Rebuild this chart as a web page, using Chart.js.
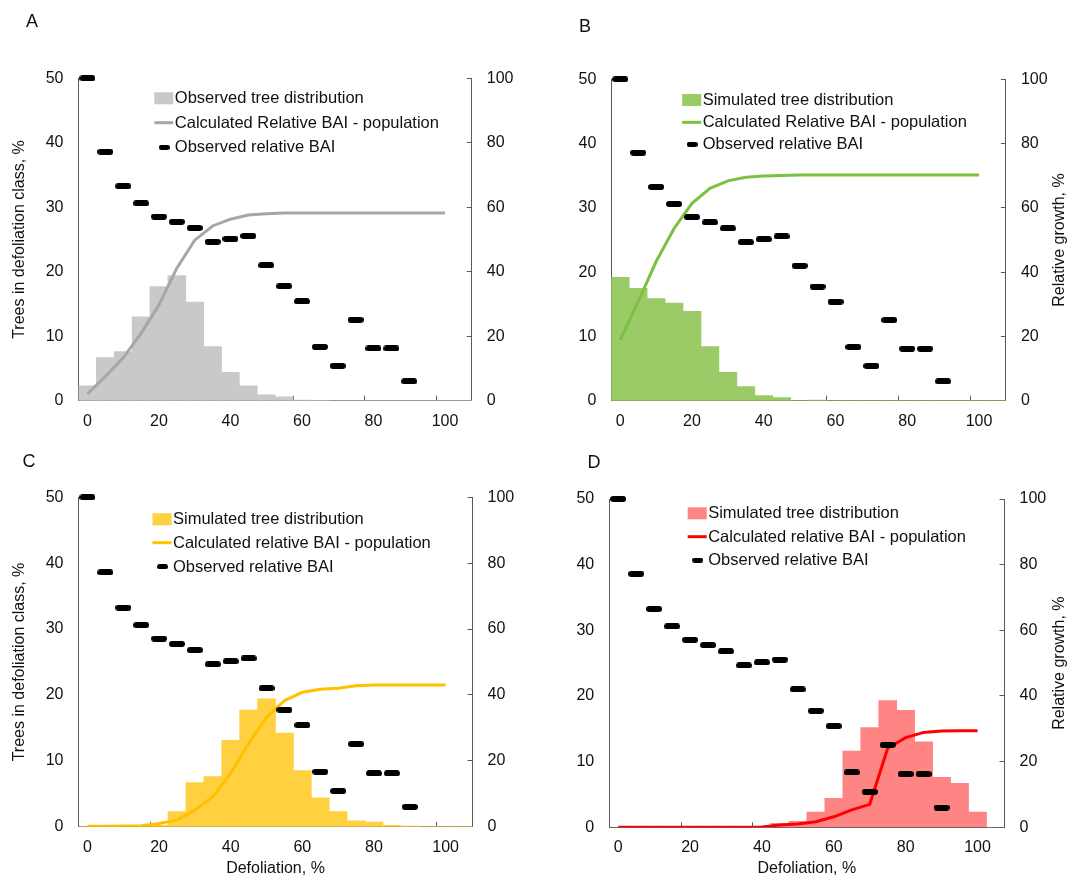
<!DOCTYPE html>
<html>
<head>
<meta charset="utf-8">
<script src="https://cdn.jsdelivr.net/npm/chart.js@4.4.0/dist/chart.umd.min.js"></script>
<style>
  html, body { margin: 0; padding: 0; background: #fff; }
  #wrap { position: relative; width: 1070px; height: 877px; }
  canvas { position: absolute; }
</style>
</head>
<body>
<div id="wrap">
  <canvas id="panelA" width="535" height="440" style="left:0px;top:0px"></canvas>
  <canvas id="panelB" width="535" height="440" style="left:535px;top:0px"></canvas>
  <canvas id="panelC" width="535" height="437" style="left:0px;top:440px"></canvas>
  <canvas id="panelD" width="535" height="437" style="left:535px;top:440px"></canvas>
</div>
<script>
/* Defoliation classes (5 % steps). */
const defoliation = [0, 5, 10, 15, 20, 25, 30, 35, 40, 45, 50, 55, 60, 65, 70, 75, 80, 85, 90, 95, 100, 105]

/* Observed relative BAI, same in every panel (0 - 90 %). */
const observedBAI = [100, 77.2, 66.5, 61.2, 57.1, 55.5, 53.6, 49.3, 50.2, 51.1, 42.0, 35.5, 30.8, 16.7, 10.8, 25.1, 16.2, 16.2, 6.0]

/* Trees in defoliation class, %. */
const treesA = [2.3, 6.7, 7.6, 13.0, 17.7, 19.4, 15.3, 8.4, 4.4, 2.3, 0.9, 0.6, 0.1, 0.05, 0, 0, 0, 0, 0, 0, 0, 0]
const treesB = [19.2, 17.5, 15.9, 15.2, 13.9, 8.4, 4.4, 2.2, 0.8, 0.5, 0, 0.1, 0, 0, 0, 0, 0, 0, 0, 0, 0, 0]
const treesC = [0, 0, 0, 0, 0.25, 2.3, 6.7, 7.6, 13.1, 17.7, 19.4, 14.2, 8.5, 4.4, 2.3, 0.9, 0.7, 0.2, 0.1, 0, 0, 0]
const treesD = [0, 0, 0, 0, 0, 0, 0, 0, 0.1, 0.6, 0.9, 2.3, 4.4, 11.6, 15.2, 19.3, 17.8, 13.0, 7.6, 6.7, 2.3, 0]

/* Calculated relative BAI - population, %. */
const baiA = [2.1, 7.5, 13.3, 20.9, 29.7, 41.1, 49.8, 54.2, 56.3, 57.6, 58.0, 58.2, 58.2, 58.2, 58.2, 58.2, 58.2, 58.2, 58.2, 58.2, 58.2, null]
const baiB = [18.9, 30.8, 43.3, 53.6, 61.4, 66.1, 68.4, 69.5, 69.9, 70.1, 70.2, 70.2, 70.2, 70.2, 70.2, 70.2, 70.2, 70.2, 70.2, 70.2, 70.2, null]
const baiC = [0.1, 0.1, 0.2, 0.3, 1.0, 2.0, 5.1, 9.1, 16.2, 25.3, 33.2, 38.3, 40.8, 41.7, 42.0, 42.8, 43.0, 43.0, 43.0, 43.0, 43.0, null]
const baiD = [0, 0, 0, 0, 0, 0, 0, 0, 0.1, 0.7, 1.0, 1.7, 3.2, 5.3, 7.0, 24.1, 27.3, 28.9, 29.3, 29.4, 29.4, null]

const FONT = '"Liberation Sans", Arial, sans-serif'
const AXIS = '#595959'
const TEXT = '#111'

/* Rounded black dash used as marker for observed BAI. */
const makeDash = (w, h) => {
  const c = document.createElement("canvas")
  c.width = w
  c.height = h
  const g = c.getContext("2d")
  g.strokeStyle = "#000"
  g.lineWidth = h
  g.lineCap = "round"
  g.beginPath()
  g.moveTo(h / 2, h / 2)
  g.lineTo(w - h / 2, h / 2)
  g.stroke()
  return c
}
const dashMarker = makeDash(16, 6)

/* Panel layout: plot area inside each canvas, legend and letter place. */
const panels = [
  { id: "panelA", letter: "A", letterAt: [32, 22], area: { l: 78.5, r: 471.8, t: 78.3, b: 400.7 },
    legendX: 154.3, legendRows: [98.3, 122.7, 147.3], leftTitle: true, rightTitle: false, xTitle: false,
    bars: treesA, line: baiA, barColor: "#c9c9c9", lineColor: "#a6a6a6",
    barLabel: "Observed tree distribution", lineLabel: "Calculated Relative BAI - population" },
  { id: "panelB", letter: "B", letterAt: [50, 27], area: { l: 76.3, r: 470.9, t: 79.3, b: 400.7 },
    legendX: 147.2, legendRows: [100, 122.3, 144.3], leftTitle: false, rightTitle: true, xTitle: false,
    bars: treesB, line: baiB, barColor: "#9bcb67", lineColor: "#7ac142",
    barLabel: "Simulated tree distribution", lineLabel: "Calculated Relative BAI - population" },
  { id: "panelC", letter: "C", letterAt: [29, 22], area: { l: 78.5, r: 472.5, t: 57.3, b: 386.7 },
    legendX: 152.5, legendRows: [79.3, 102.7, 126.7], leftTitle: true, rightTitle: false, xTitle: true,
    bars: treesC, line: baiC, barColor: "#ffd040", lineColor: "#ffc000",
    barLabel: "Simulated tree distribution", lineLabel: "Calculated relative BAI - population" },
  { id: "panelD", letter: "D", letterAt: [59, 23], area: { l: 74.2, r: 469.5, t: 59, b: 387.3 },
    legendX: 152.7, legendRows: [73.3, 96.7, 120], leftTitle: false, rightTitle: true, xTitle: true,
    bars: treesD, line: baiD, barColor: "#ff8585", lineColor: "#ff0000",
    barLabel: "Simulated tree distribution", lineLabel: "Calculated relative BAI - population" }
]

/* Plugin drawing panel letter, legend inside plot and right axis title. */
const panelText = {
  id: "panelText",
  afterDraw(chart, args, opts) {
    const ctx = chart.ctx
    const ds = chart.data.datasets
    ctx.save()
    ctx.fillStyle = TEXT
    ctx.textBaseline = "middle"

    ctx.font = "18px " + FONT
    ctx.textAlign = "center"
    ctx.fillText(opts.letter, opts.letterAt[0], opts.letterAt[1])

    ctx.font = "16.5px " + FONT
    ctx.textAlign = "left"
    const x = opts.legendX
    opts.legendRows.forEach((y, i) => {
      const d = ds[i]
      if (i == 0) {
        ctx.fillStyle = d.backgroundColor
        ctx.fillRect(x, y - 6, 19, 12)
      } else if (i == 1) {
        ctx.strokeStyle = d.borderColor
        ctx.lineWidth = 3
        ctx.beginPath()
        ctx.moveTo(x, y)
        ctx.lineTo(x + 19, y)
        ctx.stroke()
      } else {
        ctx.drawImage(legendDash, x + 4.5, y - 2.5)
      }
      ctx.fillStyle = TEXT
      ctx.fillText(d.label, x + 20.5, y + 0.5)
    })

    if (opts.rightTitle) {
      const a = chart.chartArea
      ctx.font = "16px " + FONT
      ctx.textAlign = "center"
      ctx.translate(525, (a.top + a.bottom) / 2)
      ctx.rotate(-Math.PI / 2)
      ctx.fillText("Relative growth, %", 0, 0)
    }
    ctx.restore()
  }
}
const legendDash = makeDash(11, 5)

/* Build one panel chart. */
const drawPanel = (p) => {
  const canvas = document.getElementById(p.id)
  const W = canvas.width
  const H = canvas.height
  const ctx = canvas.getContext("2d")

  new Chart(ctx, {
    type: "bar",
    data: {
      labels: defoliation,
      datasets: [{
        type: "bar",
        label: p.barLabel,
        data: p.bars,
        yAxisID: "y",
        backgroundColor: p.barColor,
        borderWidth: 0,
        barPercentage: 1,
        categoryPercentage: 1,
        order: 3
      }, {
        type: "line",
        label: p.lineLabel,
        data: p.line,
        yAxisID: "y1",
        borderColor: p.lineColor,
        borderWidth: 3,
        pointRadius: 0,
        tension: 0,
        order: 2
      }, {
        type: "line",
        label: "Observed relative BAI",
        data: observedBAI,
        yAxisID: "y1",
        showLine: false,
        pointStyle: dashMarker,
        pointRadius: 8,
        clip: false,
        order: 1
      }]
    },
    options: {
      responsive: false,
      animation: false,
      devicePixelRatio: 1,
      events: [],
      layout: { padding: { top: p.area.t, left: 0, right: 0, bottom: 0 } },
      scales: {
        x: {
          type: "category",
          offset: true,
          z: 1,
          afterFit: s => { s.height = H - p.area.b },
          border: { display: true, color: AXIS, width: 1 },
          grid: {
            display: true,
            offset: true,
            drawOnChartArea: false,
            drawTicks: true,
            tickLength: -5,
            lineWidth: 1,
            tickColor: c => (c.index % 4 == 0 && c.index > 0 && c.index <= 20) ? AXIS : "rgba(0,0,0,0)"
          },
          ticks: {
            autoSkip: false,
            maxRotation: 0,
            padding: 16,
            color: TEXT,
            font: { family: FONT, size: 16 },
            callback: (v, i) => (i % 4 == 0 && i <= 20) ? defoliation[i] : ""
          },
          title: {
            display: p.xTitle,
            text: "Defoliation, %",
            color: TEXT,
            font: { family: FONT, size: 16, lineHeight: 1 },
            padding: { top: 0, bottom: 0 }
          }
        },
        y: {
          position: "left",
          min: 0,
          max: 50,
          afterFit: s => { s.width = p.area.l },
          border: { display: true, color: AXIS, width: 1 },
          grid: { display: false, drawTicks: false },
          ticks: {
            stepSize: 10,
            padding: 15,
            color: TEXT,
            font: { family: FONT, size: 16 }
          },
          title: {
            display: p.leftTitle,
            text: "Trees in defoliation class, %",
            color: TEXT,
            font: { family: FONT, size: 16 },
            padding: { top: 9.5, bottom: 0 }
          }
        },
        y1: {
          position: "right",
          min: 0,
          max: 100,
          afterFit: s => { s.width = W - p.area.r },
          border: { display: true, color: AXIS, width: 1 },
          grid: {
            display: true,
            drawOnChartArea: false,
            drawTicks: true,
            tickLength: -5,
            tickColor: AXIS
          },
          ticks: {
            stepSize: 20,
            padding: 20,
            color: TEXT,
            font: { family: FONT, size: 16 }
          }
        }
      },
      plugins: {
        legend: { display: false },
        tooltip: { enabled: false },
        panelText: p
      }
    },
    plugins: [panelText]
  })
}

/* Draw all four panels. */
panels.forEach(p => drawPanel(p))
</script>
</body>
</html>
